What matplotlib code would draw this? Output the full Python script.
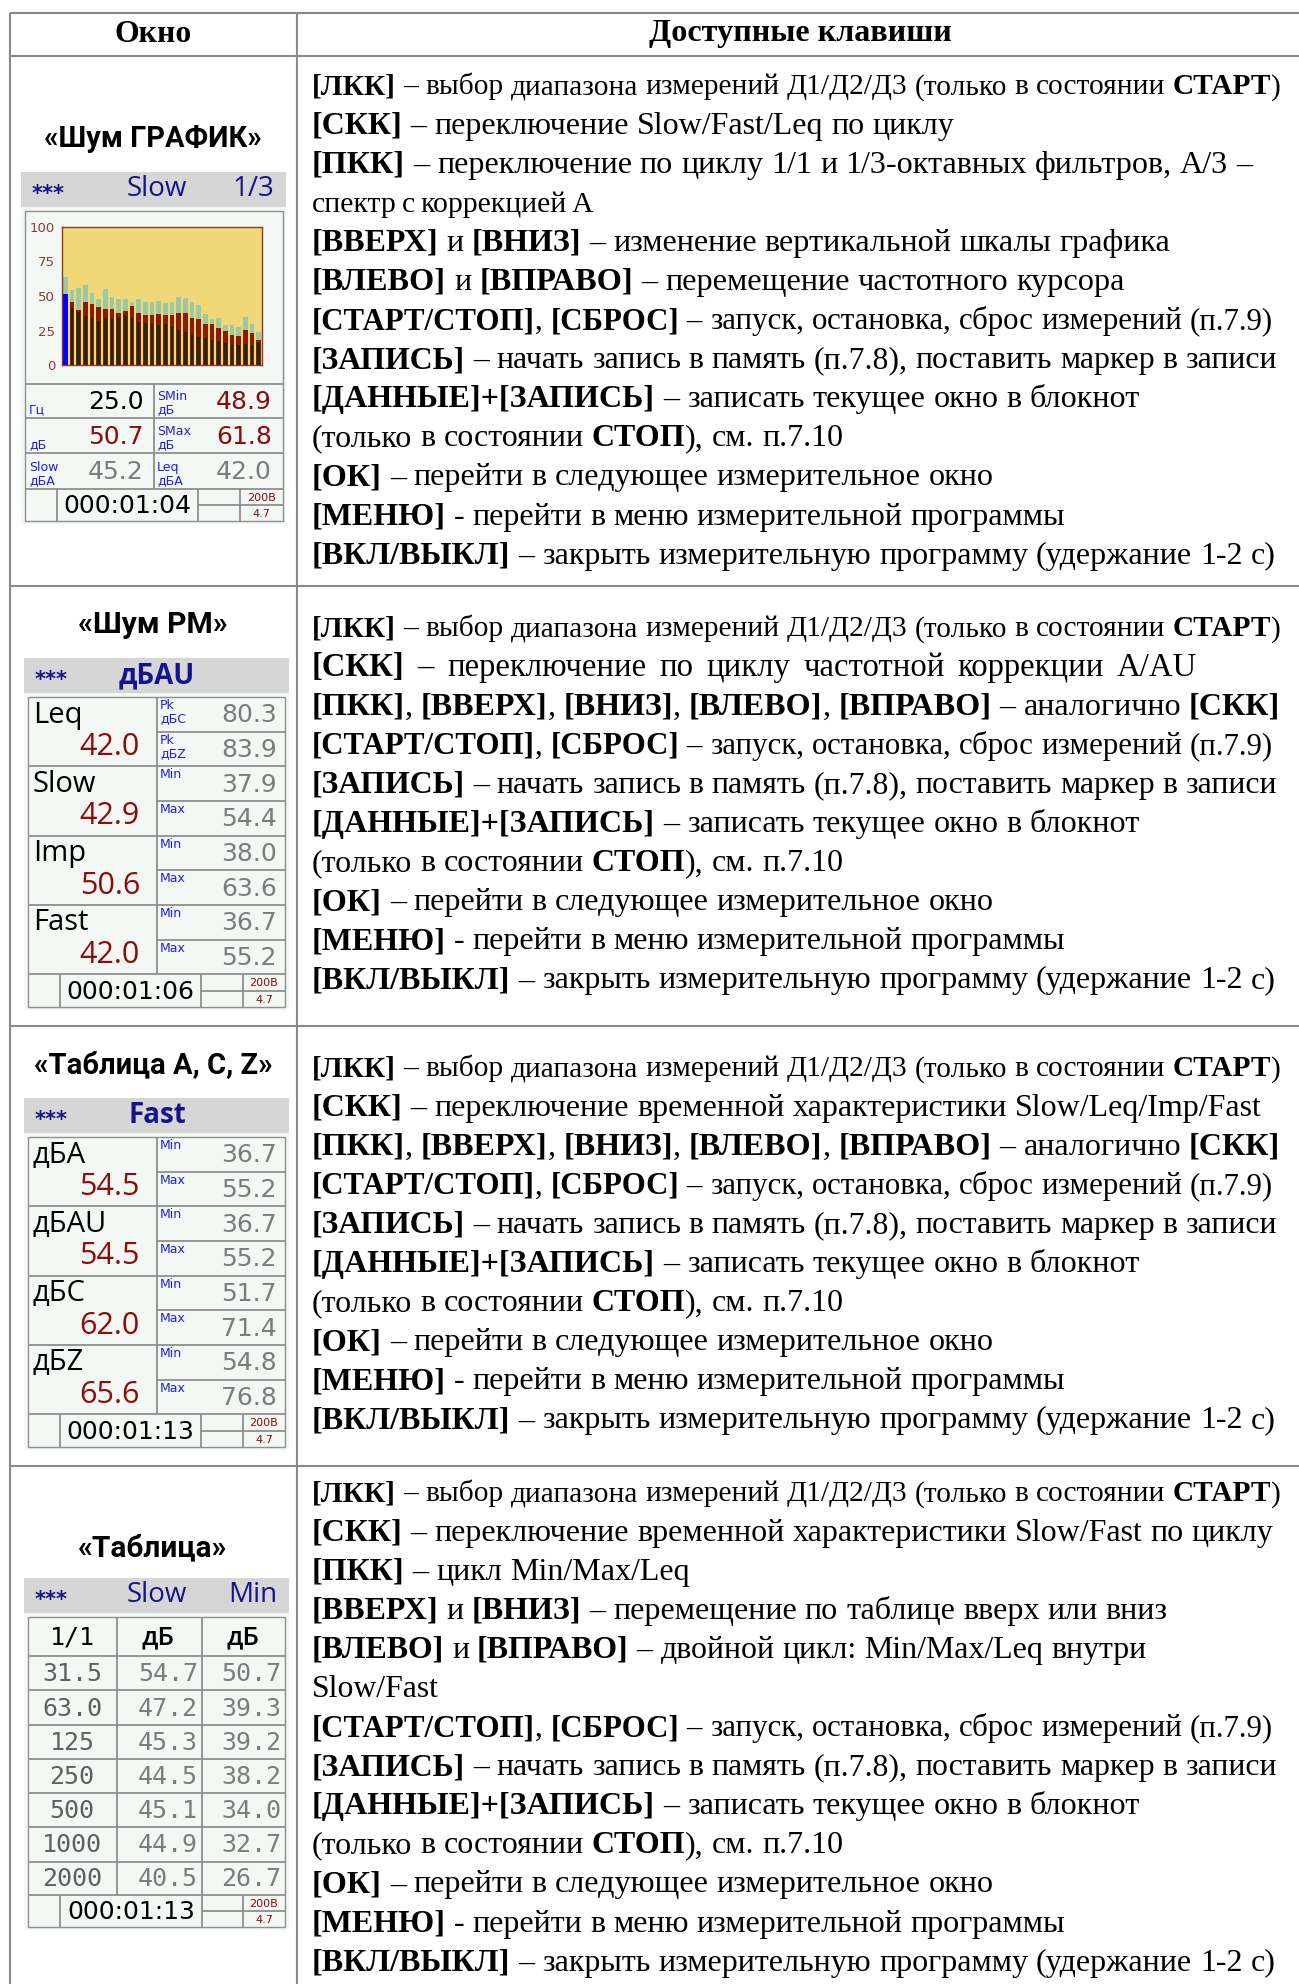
import re
import numpy as np
import matplotlib
matplotlib.use("Agg")
import matplotlib.pyplot as plt
from matplotlib.patches import Rectangle

W, H = 1299, 1984

# ---------------- data ----------------
col_headers = ["Окно", "Доступные клавиши"]
window_names = ["«Шум ГРАФИК»", "«Шум РМ»", "«Таблица A, C, Z»", "«Таблица»"]

lkk_line = "**[ЛКК]** – выбор диапазона измерений Д1/Д2/Д3 (только в состоянии **СТАРТ**)"
common_tail = [
    "**[СТАРТ/СТОП]**, **[СБРОС]** – запуск, остановка, сброс измерений (п.7.9)",
    "**[ЗАПИСЬ]** – начать запись в память (п.7.8), поставить маркер в записи",
    "**[ДАННЫЕ]+[ЗАПИСЬ]** – записать текущее окно в блокнот",
    "(только в состоянии **СТОП**), см. п.7.10",
    "**[ОК]** – перейти в следующее измерительное окно",
    "**[МЕНЮ]** - перейти в меню измерительной программы",
    "**[ВКЛ/ВЫКЛ]** – закрыть измерительную программу (удержание 1-2 с)",
]
keys_graph = [
    lkk_line,
    "**[СКК]** – переключение Slow/Fast/Leq по циклу",
    "**[ПКК]** – переключение по циклу 1/1 и 1/3-октавных фильтров, А/3 –",
    "спектр с коррекцией А",
    "**[ВВЕРХ]** и **[ВНИЗ]** – изменение вертикальной шкалы графика",
    "**[ВЛЕВО]** и **[ВПРАВО]** – перемещение частотного курсора",
] + common_tail
keys_pm = [
    lkk_line,
    "**[СКК]** – переключение по циклу частотной коррекции А/АU",
    "**[ПКК]**, **[ВВЕРХ]**, **[ВНИЗ]**, **[ВЛЕВО]**, **[ВПРАВО]** – аналогично **[СКК]**",
] + common_tail
keys_acz = [
    lkk_line,
    "**[СКК]** – переключение временной характеристики Slow/Leq/Imp/Fast",
    "**[ПКК]**, **[ВВЕРХ]**, **[ВНИЗ]**, **[ВЛЕВО]**, **[ВПРАВО]** – аналогично **[СКК]**",
] + common_tail
keys_table = [
    lkk_line,
    "**[СКК]** – переключение временной характеристики Slow/Fast по циклу",
    "**[ПКК]** – цикл Min/Max/Leq",
    "**[ВВЕРХ]** и **[ВНИЗ]** – перемещение по таблице вверх или вниз",
    "**[ВЛЕВО]** и **[ВПРАВО]** – двойной цикл: Min/Max/Leq внутри",
    "Slow/Fast",
] + common_tail

# right end of each text line in the reference (px)
tail_ends = [1275, 1277, 1138, 845, 993, 1064, 1275]
ends_graph = [1277, 955, 1252, 590, 1173, 1125] + tail_ends
ends_pm = [1277, 1218, 1281] + tail_ends
ends_acz = [1277, 1262, 1281] + tail_ends
ends_table = [1277, 1275, 689, 1168, 1145, 439] + tail_ends

# screen 1: spectrum (1/3 octave)
bands = ["25", "31.5", "40", "50", "63", "80", "100", "125", "160", "200",
         "250", "315", "400", "500", "630", "800", "1k", "1.25k", "1.6k", "2k",
         "2.5k", "3.15k", "4k", "5k", "6.3k", "8k", "10k", "12.5k", "16k", "20k"]
max_lvl = [63.5, 54, 55.5, 58, 52.5, 47.5, 55, 49.5, 48, 48, 45.8, 48, 46, 46, 46.6,
           44.7, 45.8, 49.6, 48.3, 45.8, 43.3, 37, 33, 34.3, 28.9, 29.1, 27.5, 34.6, 29.7, 24.2]
cur_lvl = [51.5, 45.3, 40, 45.3, 44.2, 42, 40.9, 40.9, 37.9, 39.3, 42.5, 37.9, 36.2, 36.2, 37.3,
           36.2, 36.2, 37.9, 37.9, 34.3, 33, 29.7, 29.7, 26.7, 25, 22, 20.9, 25.6, 22.9, 18]
min_lvl = [np.nan, 41.2, 38.4, 35.2, 34.3, 31.6, 34.3, 33.2, 34.3, 35.7, 34.3, 31, 30.5, 30.2, 29.1,
           29.7, 27.8, 25.6, 24.2, 22, 20.1, 19.3, 18.2, 17.1, 16, 14.4, 14.4, 14.9, 14.7, 15.8]
cursor = 0
graph_ticks = [0, 25, 50, 75, 100]
graph_head = ["***", "Slow", "1/3"]
g_left_units = ["Гц", "дБ", "Slow\nдБА"]
g_left_vals = ["25.0", "50.7", "45.2"]
g_right_units = ["SMin\nдБ", "SMax\nдБ", "Leq\nдБА"]
g_right_vals = ["48.9", "61.8", "42.0"]
graph_time = "000:01:04"

# screen 2: level meter
pm_head = ["***", "дБАU"]
pm_labels = ["Leq", "Slow", "Imp", "Fast"]
pm_values = ["42.0", "42.9", "50.6", "42.0"]
pm_units = [["Pk\nдБС", "Pk\nдБZ"], ["Min", "Max"], ["Min", "Max"], ["Min", "Max"]]
pm_sub = [["80.3", "83.9"], ["37.9", "54.4"], ["38.0", "63.6"], ["36.7", "55.2"]]
pm_time = "000:01:06"

# screen 3: A, C, Z
acz_head = ["***", "Fast"]
acz_labels = ["дБА", "дБАU", "дБС", "дБZ"]
acz_values = ["54.5", "54.5", "62.0", "65.6"]
acz_units = [["Min", "Max"]] * 4
acz_sub = [["36.7", "55.2"], ["36.7", "55.2"], ["51.7", "71.4"], ["54.8", "76.8"]]
acz_time = "000:01:13"

# screen 4: octave table
tab_head = ["***", "Slow", "Min"]
tab_cols = ["1/1", "дБ", "дБ"]
tab_freqs = ["31.5", "63.0", "125", "250", "500", "1000", "2000"]
tab_level = ["54.7", "47.2", "45.3", "44.5", "45.1", "44.9", "40.5"]
tab_min = ["50.7", "39.3", "39.2", "38.2", "34.0", "32.7", "26.7"]
tab_time = "000:01:13"
battery = ["200В", "4.7"]

# ---------------- style ----------------
SERIF = ["Liberation Serif", "DejaVu Serif"]
SANS = ["Open Sans", "DejaVu Sans"]
TITLE = ["Roboto", "DejaVu Sans"]
DV = ["DejaVu Sans"]
MONO = ["DejaVu Sans Mono"]
GRID = "#8a8a8a"
SCR_LINE = "#8e8e8e"
BAR_GRAY = "#d6d6d6"
SCR_BG = "#f4f8f4"
NAVY = "#14148c"
BLUE = "#2020e0"
DRED = "#8c0c0c"
GRAY = "#7c7c7c"

fig = plt.figure(figsize=(W / 100, H / 100), dpi=100)
ax = fig.add_axes([0, 0, 1, 1])
ax.set_xlim(0, W)
ax.set_ylim(H, 0)
ax.axis("off")
renderer = fig.canvas.get_renderer()


def line(x0, x1, y0, y1, color=GRID, lw=1.5):
    ax.plot([x0, x1], [y0, y1], color=color, lw=lw, solid_capstyle="butt")


def fit(t, width):
    w = t.get_window_extent(renderer).width
    t.set_fontsize(t.get_fontsize() * width / w)
    return t


def tokens(s):
    out = []
    for p in [p for p in re.split(r"(\*\*.+?\*\*)", s) if p]:
        bold = p.startswith("**")
        seg = p[2:-2] if bold else p
        for w in [w for w in re.split(r"( +)", seg) if w]:
            if w.startswith(" "):
                out.append((None, len(w)))
            else:
                out.append((w, bold))
    return out


def width_of(s, size, bold):
    t = ax.text(0, 0, s, fontsize=size, family=SERIF, fontweight="bold" if bold else "normal")
    w = t.get_window_extent(renderer).width
    t.remove()
    return w


def natural_width(s, size):
    sp = width_of("x x", size, False) - width_of("xx", size, False)
    toks = tokens(s)
    nsp = sum(n for w, n in toks if w is None)
    words = sum(width_of(w, size, b) for w, b in toks if w is not None)
    return words + nsp * sp, sp, nsp


def rich_line(x, y, s, size, x_end):
    """draw a line with **bold** parts, ending near x_end"""
    natural, sp, nsp = natural_width(s, size)
    target = x_end - x
    scale = min(max(target / natural, 0.94), 1.035)
    if s == lkk_line:
        scale = target / natural
    size *= scale
    sp *= scale
    rest = target - natural * scale
    extra = rest / nsp if nsp else 0
    extra = min(max(extra, -0.3 * sp), 0.6 * sp)
    for w, b in tokens(s):
        if w is None:
            x += b * (sp + extra)
            continue
        t = ax.text(x, y, w, fontsize=size, family=SERIF, va="baseline", ha="left",
                    fontweight="bold" if b else "normal", color="black")
        x += t.get_window_extent(renderer).width


# ---------------- outer table ----------------
TOP, HEAD, DIV, LEFT = 12.5, 55.5, 297, 10
row_lines = [585.5, 1025.5, 1465.5]
line(LEFT, W, TOP, TOP)
line(LEFT, W, HEAD, HEAD)
for y in row_lines:
    line(LEFT, W, y, y)
line(LEFT, LEFT, TOP, H)
line(DIV, DIV, TOP, H)

t = ax.text(153.5, 34, col_headers[0], family=SERIF, fontweight="bold", fontsize=22,
            ha="center", va="center")
fit(t, 77)
t = ax.text(800, 34, col_headers[1], family=SERIF, fontweight="bold", fontsize=22,
            ha="center", va="center")
fit(t, 301)

# body size: the "[ЗАПИСЬ]" line spans 965 px in the reference
nat, _, _ = natural_width(common_tail[1], 20)
body_size = 20 * 965 / nat
cap = 0.662 * body_size * 100 / 72

key_blocks = [keys_graph, keys_pm, keys_acz, keys_table]
key_ends = [ends_graph, ends_pm, ends_acz, ends_table]
first_lines = [84, 626, 1066, 1491]
step = 39.1
for block, ends, y0 in zip(key_blocks, key_ends, first_lines):
    for i, (s, xe) in enumerate(zip(block, ends)):
        rich_line(312, y0 + i * step + cap / 2, s, body_size, xe)

# window titles
title_pos = [(153, 139, 218), (153, 625, 150), (153, 1065, 239), (153, 1548, 150)]
for name, (x, y, w) in zip(window_names, title_pos):
    t = ax.text(x, y, name, family=TITLE, fontweight="bold", fontsize=18, ha="center", va="center")
    fit(t, w)


def bottom_row(xl, xr, y_top, y_bot, x_a, x_b, x_c, time_str):
    line(x_a, x_a, y_top, y_bot, SCR_LINE, 1.3)
    line(x_b, x_b, y_top, y_bot, SCR_LINE, 1.3)
    line(x_c, x_c, y_top, y_bot, SCR_LINE, 1.3)
    ym = (y_top + y_bot) / 2
    line(x_b, xr, ym, ym, SCR_LINE, 1.3)
    ax.text((x_a + x_b) / 2, ym + 1, time_str, family=DV, fontsize=18, ha="center", va="center")
    ax.text((x_c + xr) / 2, (y_top + ym) / 2 + 1, battery[0], family=DV, fontsize=8,
            color=DRED, ha="center", va="center")
    ax.text((x_c + xr) / 2, (ym + y_bot) / 2 + 1, battery[1], family=DV, fontsize=8,
            color=DRED, ha="center", va="center")


def head_bar(x0, x1, y0, y1, texts, bold=False):
    ax.add_patch(Rectangle((x0, y0), x1 - x0, y1 - y0, fc=BAR_GRAY, ec="none"))
    yc = (y0 + y1) / 2
    ax.text(x0 + 11, yc + 4, texts[0], family=DV, fontsize=15, fontweight="bold", color=NAVY,
            ha="left", va="center")
    ax.text(157, yc, texts[1], family=SANS, fontsize=20, color=NAVY, ha="center", va="center",
            fontweight="bold" if bold else "normal")
    if len(texts) > 2:
        ax.text(x1 - 12, yc, texts[2], family=SANS, fontsize=20, color=NAVY, ha="right", va="center")


# ---------------- screen 1: graph ----------------
head_bar(21, 286, 172, 207, graph_head)
ax.add_patch(Rectangle((21, 207), 265, 317, fc=SCR_BG, ec="none"))
ax.add_patch(Rectangle((25, 211), 258, 310, fc="none", ec=SCR_LINE, lw=1.0))

cax = fig.add_axes([62 / W, 1 - 365 / H, 200 / W, 138 / H])
xs = np.arange(len(bands))
cax.bar(xs, max_lvl, width=0.68, color="#9cc9a2")
cur_colors = ["#0000ff" if i == cursor else "#8a1a0c" for i in xs]
cax.bar(xs, cur_lvl, width=0.68, color=cur_colors)
cax.bar(xs, min_lvl, width=0.38, color="#1c2a0c")
cax.set_xlim(-0.5, len(bands) - 0.5)
cax.set_ylim(0, 100)
cax.set_facecolor("#f0d878")
cax.set_xticks([])
cax.set_yticks(graph_ticks)
cax.tick_params(length=0, pad=5, labelsize=9.5, labelcolor="#8b3a3a")
for sp in cax.spines.values():
    sp.set_color("#8b3a2a")
    sp.set_linewidth(1.0)

g_rows = [384, 418, 453, 489]
for y in g_rows:
    line(25, 283, y, y, SCR_LINE, 1.3)
line(154, 154, 384, 489, SCR_LINE, 1.3)
left_colors = ["black", DRED, GRAY]
right_colors = [DRED, DRED, GRAY]
for i in range(3):
    y0, y1 = g_rows[i], g_rows[i + 1]
    yc = (y0 + y1) / 2 + 1
    ax.text(29, y1 - 2, g_left_units[i], family=DV, fontsize=9, color=BLUE, ha="left",
            va="bottom", linespacing=1.0)
    ax.text(144, yc, g_left_vals[i], family=DV, fontsize=18, color=left_colors[i],
            ha="right", va="center")
    ax.text(157, y1 - 2, g_right_units[i], family=DV, fontsize=9, color=BLUE, ha="left",
            va="bottom", linespacing=1.0)
    ax.text(272, yc, g_right_vals[i], family=DV, fontsize=18, color=right_colors[i],
            ha="right", va="center")
bottom_row(25, 283, 489, 521, 57, 198, 240, graph_time)


# ---------------- screens 2 and 3 ----------------
def level_screen(y0, head, labels, values, units, subs, time_str):
    head_bar(24, 289, y0, y0 + 35, head, bold=True)
    ax.add_patch(Rectangle((24, y0 + 35), 265, 317, fc=SCR_BG, ec="none"))
    top = y0 + 39
    gh = 69.3
    ax.add_patch(Rectangle((28, top), 257, 310, fc="none", ec=SCR_LINE, lw=1.0))
    for k in range(4):
        gt = top + k * gh
        line(28, 285, gt + gh, gt + gh, SCR_LINE, 1.3)
        line(157, 157, gt, gt + gh, SCR_LINE, 1.3)
        line(157, 285, gt + gh / 2, gt + gh / 2, SCR_LINE, 1.3)
        ax.text(33, gt + 18, labels[k], family=SANS, fontsize=21, color="black",
                ha="left", va="center")
        ax.text(140, gt + 50, values[k], family=SANS, fontsize=22, color=DRED,
                ha="right", va="center")
        for j in range(2):
            st = gt + j * gh / 2
            ax.text(160, st + 2, units[k][j], family=DV, fontsize=9, color=BLUE,
                    ha="left", va="top", linespacing=1.0)
            ax.text(277, st + 18.5, subs[k][j], family=DV, fontsize=18, color=GRAY,
                    ha="right", va="center")
    bottom_row(28, 285, top + 4 * gh, top + 310, 60, 201, 243, time_str)


level_screen(658, pm_head, pm_labels, pm_values, pm_units, pm_sub, pm_time)
level_screen(1098, acz_head, acz_labels, acz_values, acz_units, acz_sub, acz_time)

# ---------------- screen 4: table ----------------
head_bar(24, 289, 1578, 1613, tab_head)
t_rows = [1617, 1656, 1690, 1725, 1759, 1793, 1827, 1862, 1895, 1927]
ax.add_patch(Rectangle((24, 1613), 265, t_rows[-1] + 3 - 1613, fc=SCR_BG, ec="none"))
ax.add_patch(Rectangle((28, t_rows[0]), 257, t_rows[-1] - t_rows[0], fc="none", ec=SCR_LINE, lw=1.0))
for y in t_rows[1:-1]:
    line(28, 285, y, y, SCR_LINE, 1.3)
line(117, 117, t_rows[0], t_rows[-2], SCR_LINE, 1.3)
line(202, 202, t_rows[0], t_rows[-2], SCR_LINE, 1.3)
yc = (t_rows[0] + t_rows[1]) / 2 + 1
ax.text(72, yc, tab_cols[0], family=MONO, fontsize=18, ha="center", va="center")
ax.text(158, yc, tab_cols[1], family=SANS, fontsize=19, ha="center", va="center", fontweight="semibold")
ax.text(243, yc, tab_cols[2], family=SANS, fontsize=19, ha="center", va="center", fontweight="semibold")
for i in range(len(tab_freqs)):
    yc = (t_rows[i + 1] + t_rows[i + 2]) / 2 + 1
    ax.text(72, yc, tab_freqs[i], family=MONO, fontsize=18, color="#606060", ha="center", va="center")
    ax.text(198, yc, tab_level[i], family=MONO, fontsize=18, color=GRAY, ha="right", va="center")
    ax.text(281, yc, tab_min[i], family=MONO, fontsize=18, color=GRAY, ha="right", va="center")
bottom_row(28, 285, t_rows[-2], t_rows[-1], 60, 202, 243, tab_time)

fig.savefig("out.png", dpi=100)
